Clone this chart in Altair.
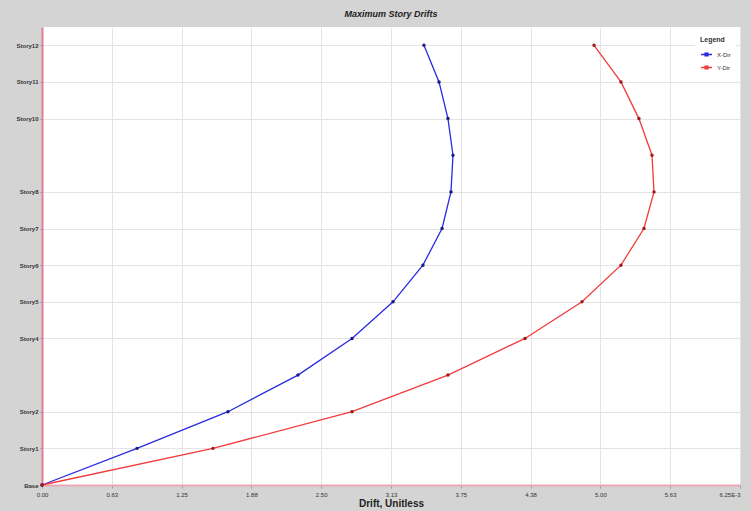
import altair as alt
import pandas as pd

# Story levels (0 = Base)
levels = list(range(13))
story_names = ["Base"] + [f"Story{i}" for i in range(1, 13)]

# Maximum story drifts (unitless)
x_dir = [0.0, 0.000851, 0.001665, 0.002292, 0.002776, 0.003143, 0.003411,
         0.003582, 0.003662, 0.003680, 0.003635, 0.003555, 0.003420]
y_dir = [0.0, 0.001531, 0.002776, 0.003635, 0.004325, 0.004835, 0.005184,
         0.005390, 0.005480, 0.005462, 0.005345, 0.005184, 0.004943]

series_names = ["X-Dir", "Y-Dir"]
series_colors = ["#2a2ae0", "#f03c3c"]

x_ticks = [i * 0.000625 for i in range(11)]
y_ticks = [0, 1, 2, 4, 5, 6, 7, 8, 10, 11, 12]

rows = []
for lv, name, v in zip(levels, story_names, x_dir):
    rows.append({"level": lv, "story": name, "drift": v, "series": series_names[0]})
for lv, name, v in zip(levels, story_names, y_dir):
    rows.append({"level": lv, "story": name, "drift": v, "series": series_names[1]})
df = pd.DataFrame(rows)

FONT = "Liberation Sans"

color_scale = alt.Scale(domain=series_names, range=series_colors)

x_enc = alt.X(
    "drift:Q",
    scale=alt.Scale(domain=[0, 0.00625], nice=False, zero=True),
    axis=alt.Axis(
        title="Drift, Unitless",
        values=x_ticks,
        labelExpr="datum.value > 0.0062 ? format(datum.value*1000, '.2f') + 'E-3' : format(datum.value*1000, '.2f')",
        labelAlign={"condition": {"test": "datum.value > 0.0062", "value": "right"}, "value": "center"},
        labelFont=FONT, labelFontSize=6, labelColor="#333333",
        labelPadding=3, labelFlush=False,
        tickSize=3, tickColor="#999999",
        titleFont=FONT, titleFontSize=10, titleFontWeight="bold",
        titleColor="#222222", titlePadding=1,
        domainColor="#eba7b5", domainWidth=2,
        gridColor="#e4e4e4", gridWidth=1,
    ),
)
y_enc = alt.Y(
    "level:Q",
    scale=alt.Scale(domain=[0, 12.5], nice=False),
    axis=alt.Axis(
        title=None,
        values=y_ticks,
        labelExpr="datum.value == 0 ? 'Base' : 'Story' + datum.value",
        labelFont=FONT, labelFontSize=6, labelColor="#333333",
        labelPadding=2, labelFlush=False, labelFontWeight="bold",
        tickSize=2, tickColor="#999999",
        domainColor="#e07f92", domainWidth=2,
        gridColor="#e4e4e4", gridWidth=1,
    ),
)

base = alt.Chart(df)

lines = base.mark_line(strokeWidth=1.3).encode(
    x=x_enc,
    y=y_enc,
    order="level:Q",
    color=alt.Color(
        "series:N",
        scale=color_scale,
        legend=alt.Legend(
            title="Legend",
            orient="top-right",
            offset=4,
            fillColor="white",
            padding=5,
            titleFont=FONT, titleFontSize=7, titleFontWeight="bold",
            titleColor="#333333",
            labelFont=FONT, labelFontSize=6, labelColor="#333333",
            symbolType="M-1,0H1M-0.25,-0.25H0.25V0.25H-0.25Z",
            symbolSize=120, symbolStrokeWidth=1.5,
            rowPadding=2,
        ),
    ),
)

points = base.mark_point(filled=True, size=12, opacity=1, shape="circle").encode(
    x="drift:Q",
    y="level:Q",
    color=alt.Color("series:N", scale=alt.Scale(domain=series_names, range=["#1a1a80", "#a01818"]), legend=None),
)

chart = (
    alt.layer(lines, points)
    .resolve_scale(color="independent")
    .properties(
        width=698,
        height=458,
        autosize=alt.AutoSizeParams(type="none"),
        padding={"left": 42, "top": 27, "right": 11, "bottom": 26},
        background="#d4d4d4",
        title=alt.TitleParams(
            "Maximum Story Drifts",
            font=FONT, fontSize=9, fontWeight="bold", fontStyle="italic",
            color="#222222", anchor="middle", offset=8,
        ),
    )
    .configure_view(fill="white", stroke=None)
)

chart.save("out.html", embed_options={"renderer": "svg", "actions": False})
